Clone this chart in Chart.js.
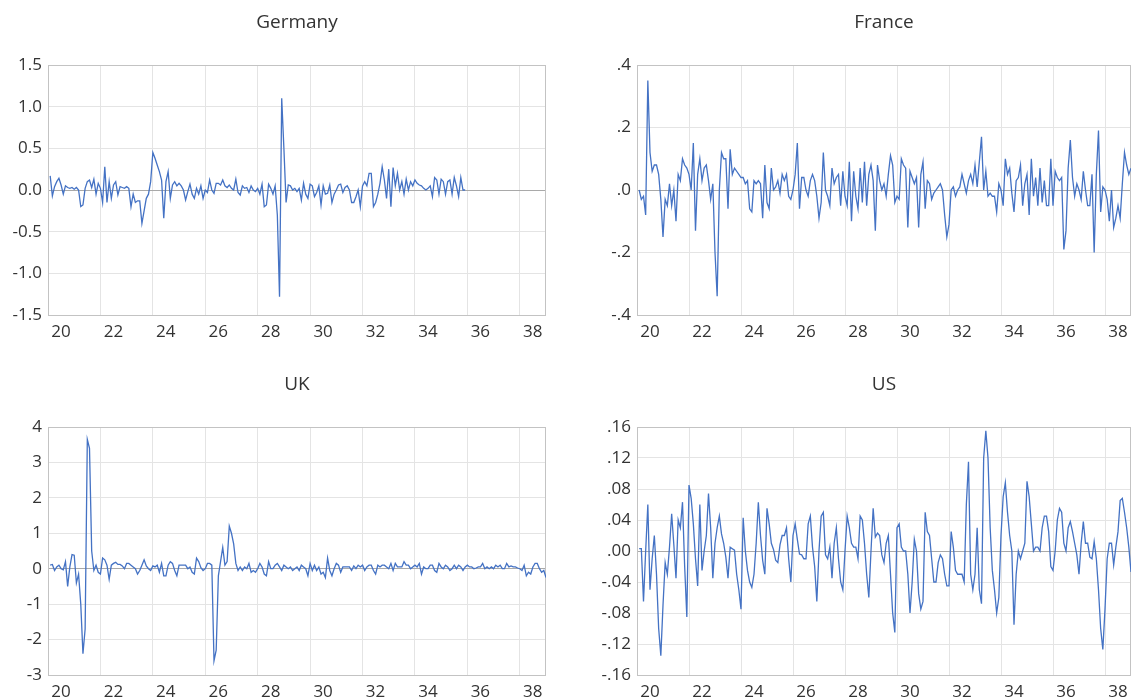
<!DOCTYPE html>
<html>
<head>
<meta charset="utf-8">
<title>Monthly changes, 1920-1938</title>
<script src="https://cdn.jsdelivr.net/npm/chart.js@4.4.1/dist/chart.umd.min.js"></script>
<style>
  html, body { margin: 0; padding: 0; background: #fff; width: 1131px; height: 700px; overflow: hidden; }
  canvas { position: absolute; }
</style>
</head>
<body>
<canvas id="ger" width="560" height="350" style="left:0;top:0"></canvas>
<canvas id="fra" width="542" height="350" style="left:589px;top:0"></canvas>
<canvas id="uk" width="560" height="338" style="left:0;top:362px"></canvas>
<canvas id="us" width="542" height="338" style="left:589px;top:362px"></canvas>
<script>
// monthly observations, first one is Jan 1920
const START_YEAR = 1920;
const xTicks = [1920, 1922, 1924, 1926, 1928, 1930, 1932, 1934, 1936, 1938];

const germany = [
  0.17, -0.07, 0.04, 0.1, 0.14, 0.06, -0.05, 0.05, 0.03, 0.02, 0.03, 0.01,
  0.03, 0.0, -0.2, -0.18, 0.02, 0.1, 0.12, 0.03, 0.13, -0.05, 0.08, 0.02,
  -0.15, 0.28, -0.15, 0.1, -0.1, 0.06, 0.1, -0.06, 0.04, 0.03, 0.02, 0.04,
  0.02, -0.2, -0.05, -0.15, -0.13, -0.13, -0.4, -0.25, -0.1, -0.05, 0.1, 0.45,
  0.38, 0.3, 0.22, 0.12, -0.34, 0.1, 0.22, -0.1, 0.06, 0.1, 0.05, 0.08,
  0.05, 0.0, -0.12, -0.02, 0.07, -0.05, -0.1, 0.02, -0.05, 0.05, -0.1, 0.0,
  -0.03, 0.12, 0.0, -0.04, 0.08, 0.08, 0.06, 0.12, 0.05, 0.03, 0.06, 0.02,
  0.0, 0.13, -0.03, -0.06, 0.05, 0.02, 0.03, -0.03, 0.05, 0.0, -0.02, 0.02,
  -0.05, 0.07, -0.2, -0.18, 0.07, 0.02, -0.05, 0.05, -0.3, -1.28, 1.1, 0.5,
  -0.15, 0.06, 0.05, 0.0, 0.02, -0.02, 0.02, -0.12, 0.08, -0.05, -0.1, 0.07,
  0.05, -0.08, -0.03, 0.05, -0.18, 0.05, -0.05, -0.04, 0.06, -0.15, -0.05, 0.0,
  0.06, 0.07, -0.03, 0.03, 0.05, 0.0, -0.15, -0.15, -0.08, 0.0, -0.2, 0.05,
  0.1, 0.05, 0.2, 0.2, -0.2, -0.15, -0.05, 0.08, 0.28, 0.12, -0.1, 0.25,
  -0.2, 0.27, 0.05, 0.2, 0.0, 0.1, -0.05, 0.13, 0.0, 0.1, 0.05, 0.12,
  0.08, 0.06, 0.05, 0.02, 0.0, 0.02, 0.05, -0.08, 0.15, 0.12, -0.05, 0.13,
  0.1, -0.05, 0.1, 0.12, -0.05, 0.15, 0.05, -0.08, 0.15, 0.0, 0.0
];

const france = [
  0.0, -0.03, -0.02, -0.08, 0.35, 0.12, 0.06, 0.08, 0.08, 0.05, -0.03, -0.15,
  -0.03, -0.05, 0.02, -0.05, 0.0, -0.1, 0.05, 0.03, 0.1, 0.08, 0.07, 0.05,
  0.0, 0.15, -0.13, 0.05, 0.1, 0.03, 0.07, 0.08, 0.03, -0.03, 0.02, -0.2,
  -0.34, 0.0, 0.12, 0.1, 0.1, -0.06, 0.13, 0.05, 0.07, 0.06, 0.05, 0.04,
  0.04, 0.02, 0.03, -0.06, -0.07, 0.03, 0.02, 0.03, 0.02, -0.09, 0.08, -0.04,
  -0.06, 0.07, 0.0, 0.01, 0.03, -0.01, 0.05, 0.03, 0.05, -0.02, -0.03, 0.0,
  0.05, 0.15, -0.06, 0.04, 0.04, 0.0, -0.02, 0.03, 0.05, 0.03, -0.02, -0.09,
  -0.04, 0.12, 0.0, -0.02, -0.05, 0.07, 0.02, 0.04, 0.05, -0.05, 0.06, -0.02,
  -0.05, 0.09, -0.1, 0.06, -0.02, -0.06, 0.07, -0.04, 0.09, -0.05, 0.05, 0.08,
  0.03, -0.13, 0.08, 0.03, 0.0, 0.02, -0.02, 0.05, 0.11, 0.08, -0.04, -0.02,
  -0.03, 0.1, 0.08, 0.07, -0.12, 0.06, 0.04, 0.02, 0.04, -0.12, 0.05, 0.09,
  -0.06, 0.03, 0.02, -0.03, -0.01, 0.0, 0.01, 0.02, 0.0, -0.08, -0.15, -0.11,
  0.0, 0.01, -0.02, 0.0, 0.01, 0.05, 0.02, -0.01, 0.03, 0.05, 0.02, 0.08,
  0.01, 0.09, 0.17, 0.0, 0.06, -0.02, -0.01, -0.02, -0.02, -0.07, 0.02, 0.0,
  -0.05, 0.1, 0.05, 0.07, -0.01, -0.07, 0.03, 0.04, 0.08, -0.05, 0.02, 0.05,
  -0.08, 0.1, -0.02, 0.04, -0.05, 0.07, -0.04, 0.03, -0.05, -0.05, 0.1, -0.05,
  0.06, 0.04, 0.03, 0.04, -0.19, -0.13, 0.07, 0.16, 0.04, -0.02, 0.02, 0.0,
  -0.03, 0.06, 0.0, -0.05, -0.05, 0.05, -0.2, 0.05, 0.19, -0.07, 0.01, 0.0,
  -0.03, -0.1, 0.0, -0.12, -0.09, -0.05, -0.09, 0.02, 0.12, 0.08, 0.05, 0.07
];

const uk = [
  0.1, 0.12, -0.05, 0.05, 0.1, 0.0, -0.03, 0.2, -0.5, 0.05, 0.4, 0.38,
  -0.4, -0.15, -1.0, -2.4, -1.7, 3.65, 3.4, 0.5, -0.05, 0.1, -0.1, -0.15,
  0.3, 0.25, 0.1, -0.3, 0.1, 0.15, 0.18, 0.12, 0.12, 0.08, 0.0, 0.15,
  0.15, 0.1, 0.05, 0.0, -0.15, -0.05, 0.1, 0.25, 0.08, 0.0, -0.05, 0.08,
  0.05, 0.1, -0.1, 0.15, -0.2, -0.2, 0.1, 0.2, 0.15, -0.05, -0.2, 0.1,
  0.1, 0.1, 0.1, 0.0, 0.05, -0.1, -0.15, 0.3, 0.2, 0.03, -0.05, 0.0,
  0.15, 0.15, 0.1, -2.6, -2.3, -0.2, 0.2, 0.6, 0.1, 0.2, 1.2, 1.0,
  0.7, 0.15, -0.05, 0.05, -0.05, 0.05, 0.0, 0.15, -0.1, -0.05, -0.1, 0.0,
  0.15, 0.05, -0.15, -0.2, 0.2, 0.0, 0.0, 0.1, 0.15, 0.05, -0.05, 0.1,
  0.05, 0.0, 0.05, -0.05, 0.0, 0.05, -0.05, 0.1, 0.05, 0.0, -0.2, 0.15,
  -0.05, 0.1, -0.05, 0.05, -0.15, -0.1, -0.25, 0.3, -0.05, -0.2, 0.0, 0.15,
  0.1, -0.1, 0.05, 0.05, 0.05, 0.05, -0.05, 0.08, 0.0, 0.1, 0.05, 0.1,
  -0.05, 0.05, 0.1, 0.1, -0.05, -0.15, 0.1, 0.05, 0.1, 0.1, 0.05, 0.0,
  0.15, -0.05, 0.15, 0.05, 0.05, 0.05, 0.2, 0.1, 0.1, 0.0, 0.05, 0.1,
  0.05, 0.15, -0.15, 0.05, 0.0, 0.0, 0.1, 0.1, -0.05, -0.1, 0.15, 0.05,
  0.0, 0.1, 0.05, -0.05, 0.0, 0.1, 0.0, 0.1, 0.05, -0.05, 0.05, 0.1,
  0.05, 0.05, 0.0, 0.02, 0.05, 0.05, 0.15, 0.0, 0.05, 0.0, 0.05, 0.0,
  0.1, 0.05, 0.1, 0.0, 0.0, 0.15, 0.05, 0.08, 0.05, 0.05, 0.02, 0.0,
  -0.05, 0.1, -0.2, -0.1, -0.15, 0.05, 0.15, 0.15, 0.0, -0.1, -0.05, -0.25
];

const us = [
  0.003, 0.003, -0.065, 0.0, 0.06, -0.05, -0.01, 0.02, -0.03, -0.1, -0.135, -0.07,
  -0.015, -0.03, 0.005, 0.048, 0.008, -0.035, 0.04, 0.03, 0.063, -0.02, -0.085, 0.085,
  0.068, 0.035, -0.01, -0.045, 0.06, -0.025, 0.0, 0.02, 0.074, 0.03, -0.035, 0.01,
  0.03, 0.045, 0.022, 0.01, -0.008, -0.035, 0.005, 0.003, 0.001, -0.03, -0.05, -0.075,
  0.043, 0.0, -0.025, -0.04, -0.047, -0.03, 0.01, 0.063, 0.02, -0.012, -0.03, 0.055,
  0.035, 0.01, 0.002, -0.012, -0.015, 0.008, 0.02, 0.02, 0.03, -0.01, -0.04, 0.02,
  0.035, 0.015, -0.004, -0.005, -0.01, -0.01, 0.035, 0.045, 0.005, -0.02, -0.065, 0.0,
  0.045, 0.05, -0.005, -0.01, 0.005, -0.035, 0.01, 0.03, -0.01, -0.04, -0.05, 0.0,
  0.045, 0.03, 0.01, 0.005, 0.005, -0.01, 0.045, 0.04, 0.01, -0.03, -0.06, 0.0,
  0.055, 0.018, 0.023, 0.02, -0.005, -0.015, 0.01, 0.02, -0.03, -0.08, -0.105, 0.03,
  0.035, 0.005, 0.0, 0.0, -0.03, -0.08, -0.04, 0.015, 0.0, -0.055, -0.075, -0.065,
  0.05, 0.025, 0.02, -0.01, -0.04, -0.04, -0.015, -0.005, -0.01, -0.03, -0.045, -0.045,
  0.025, 0.005, -0.025, -0.03, -0.03, -0.03, -0.04, 0.06, 0.115, -0.03, -0.05, -0.03,
  0.03, -0.05, -0.068, 0.12, 0.155, 0.12, 0.03, -0.025, -0.05, -0.08, -0.06, 0.02,
  0.07, 0.088, 0.05, 0.02, 0.0, -0.095, -0.03, 0.0, -0.01, 0.0, 0.01, 0.09,
  0.07, 0.035, 0.0, 0.005, 0.005, 0.0, 0.03, 0.045, 0.045, 0.025, -0.02, -0.025,
  0.0, 0.04, 0.055, 0.05, 0.01, 0.0, 0.03, 0.038, 0.025, 0.01, -0.005, -0.03,
  0.01, 0.038, 0.01, 0.01, -0.008, -0.01, 0.012, -0.01, -0.05, -0.1, -0.127, -0.075,
  -0.01, 0.01, 0.01, -0.018, 0.005, 0.025, 0.065, 0.068, 0.05, 0.03, 0.005, -0.027
];

const LINE = '#4472c4';
const GRID = '#e4e4e4';
const ZERO = '#a9a9a9';
const FRAME = '#c3c3c3';
const TEXT = '#333333';

Chart.defaults.font.family = "'Open Sans', sans-serif";
Chart.defaults.font.size = 17;
Chart.defaults.color = TEXT;

function toPoints(values) {
  return values.map((v, i) => ({ x: START_YEAR + (i + 1) / 12, y: v }));
}

function noLeadingZero(s) {
  return s.replace(/^(-?)0\./, '$1.');
}

// frame round the plot area plus the title above it
const panelPlugin = {
  id: 'panel',
  beforeDatasetsDraw(chart) {
    const a = chart.chartArea;
    const ctx = chart.ctx;
    ctx.save();
    ctx.strokeStyle = FRAME;
    ctx.lineWidth = 1;
    ctx.strokeRect(Math.round(a.left) + 0.5, Math.round(a.top) + 0.5,
      Math.round(a.right - a.left) - 1, Math.round(a.bottom - a.top));
    ctx.restore();
  },
  afterDraw(chart, args, opts) {
    const a = chart.chartArea;
    const ctx = chart.ctx;
    ctx.save();
    ctx.font = "19px 'Open Sans', sans-serif";
    ctx.fillStyle = TEXT;
    ctx.textAlign = 'center';
    ctx.textBaseline = 'middle';
    ctx.fillText(opts.text, (a.left + a.right) / 2, a.top - 42);
    ctx.restore();
  }
};

function makePanel(id, title, values, yMin, yMax, yStep, fmt, padRight, xHeight) {
  new Chart(document.getElementById(id), {
    type: 'line',
    data: {
      datasets: [{
        data: toPoints(values),
        borderColor: LINE,
        borderWidth: 1.3,
        pointRadius: 0,
        tension: 0,
        fill: false
      }]
    },
    options: {
      responsive: false,
      animation: false,
      events: [],
      layout: { padding: { top: 65, right: padRight, left: 0, bottom: 0 } },
      plugins: {
        legend: { display: false },
        tooltip: { enabled: false },
        panel: { text: title }
      },
      scales: {
        x: {
          type: 'linear',
          min: 1920,
          max: 1939,
          border: { display: false },
          grid: { color: GRID, drawTicks: false },
          afterBuildTicks: (scale) => { scale.ticks = xTicks.map(v => ({ value: v })); },
          afterFit: (scale) => { scale.height = xHeight; },
          ticks: {
            padding: 7,
            labelOffset: 13,
            maxRotation: 0,
            autoSkip: false,
            callback: (v) => String(v - 1900)
          }
        },
        y: {
          min: yMin,
          max: yMax,
          border: { display: false },
          grid: {
            drawTicks: false,
            color: (ctx) => (ctx.tick && Math.abs(ctx.tick.value) < 1e-9 ? ZERO : GRID)
          },
          afterFit: (scale) => { scale.width = 48; },
          ticks: {
            stepSize: yStep,
            padding: 6,
            callback: fmt
          }
        }
      }
    },
    plugins: [panelPlugin]
  });
}

makePanel('ger', 'Germany', germany, -1.5, 1.5, 0.5, (v) => v.toFixed(1), 14, 35);
makePanel('fra', 'France', france, -0.4, 0.4, 0.2, (v) => noLeadingZero(v.toFixed(1)), 0, 35);
makePanel('uk', 'UK', uk, -3, 4, 1, (v) => String(Math.round(v)), 14, 25);
makePanel('us', 'US', us, -0.16, 0.16, 0.04, (v) => noLeadingZero(v.toFixed(2)), 0, 25);
</script>
</body>
</html>
